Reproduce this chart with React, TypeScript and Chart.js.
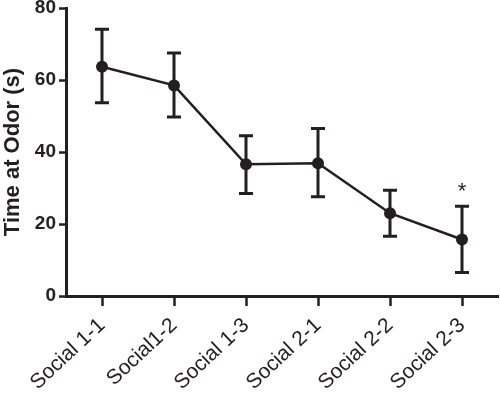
import React, { useEffect, useRef } from "react";
import { Chart, registerables } from "chart.js";

Chart.register(...registerables);

const categories = ["Social 1-1", "Social1-2", "Social 1-3", "Social 2-1", "Social 2-2", "Social 2-3"];
const means = [63.7, 58.5, 36.6, 36.9, 23.0, 15.7];
const upper = [74.1, 67.5, 44.5, 46.5, 29.4, 24.9];
const lower = [53.7, 49.7, 28.5, 27.6, 16.6, 6.5];
const marks = ["", "", "", "", "", "*"];
const yTicks = [0, 20, 40, 60, 80];

const INK = "#231f20";
const AREA_RIGHT = 498;

const errorBarPlugin = {
  id: "errorBars",
  afterLayout(chart: any) {
    const x = chart.scales.x;
    const area = chart.chartArea;
    area.right = AREA_RIGHT;
    area.width = AREA_RIGHT - area.left;
    x.right = AREA_RIGHT;
    x.width = AREA_RIGHT - x.left;
    x.configure();
  },
  beforeDatasetsDraw(chart: any) {
    const { ctx, scales } = chart;
    const x = scales.x;
    const y = scales.y;
    ctx.save();
    ctx.strokeStyle = INK;
    ctx.lineWidth = 3;
    ctx.lineCap = "butt";
    categories.forEach((_, i) => {
      const px = x.getPixelForValue(i);
      const top = y.getPixelForValue(upper[i]);
      const bot = y.getPixelForValue(lower[i]);
      ctx.beginPath();
      ctx.moveTo(px, top);
      ctx.lineTo(px, bot);
      ctx.moveTo(px - 7, top);
      ctx.lineTo(px + 7, top);
      ctx.moveTo(px - 7, bot);
      ctx.lineTo(px + 7, bot);
      ctx.stroke();
    });
    ctx.restore();
  },
  afterDatasetsDraw(chart: any) {
    const { ctx, scales } = chart;
    ctx.save();
    ctx.fillStyle = INK;
    ctx.font = "22px 'Liberation Sans', Arial, sans-serif";
    ctx.textAlign = "center";
    ctx.textBaseline = "middle";
    marks.forEach((m, i) => {
      if (!m) return;
      const px = scales.x.getPixelForValue(i);
      const py = scales.y.getPixelForValue(upper[i]) - 14;
      ctx.fillText(m, px, py);
    });
    ctx.restore();
  },
};

export default function App() {
  const ref = useRef<HTMLCanvasElement>(null);
  useEffect(() => {
    if (!ref.current) return;
    const chart = new Chart(ref.current, {
      type: "line",
      data: {
        labels: categories,
        datasets: [
          {
            data: means,
            borderColor: INK,
            backgroundColor: INK,
            borderWidth: 2.5,
            pointRadius: 6,
            pointHoverRadius: 6,
            pointBackgroundColor: INK,
            pointBorderWidth: 0,
            tension: 0,
          },
        ],
      },
      options: {
        responsive: false,
        animation: false,
        layout: { padding: { top: 8, right: 2, left: 0, bottom: 0 } },
        plugins: { legend: { display: false }, tooltip: { enabled: false } },
        scales: {
          x: {
            type: "category",
            offset: true,
            afterFit(scale: any) {
              scale.height = 100;
              scale.paddingLeft = 0;
              scale.paddingRight = 0;
            },
            grid: {
              offset: false,
              drawOnChartArea: false,
              drawTicks: true,
              tickLength: 10,
              tickWidth: 2.5,
              tickColor: INK,
              color: INK,
            },
            border: { display: true, color: INK, width: 3 },
            ticks: {
              color: INK,
              font: { family: "'Liberation Sans', Arial, sans-serif", size: 21 },
              minRotation: 43,
              maxRotation: 43,
              padding: 7,
              autoSkip: false,
            },
          },
          y: {
            min: 0,
            max: 80,
            afterFit(scale: any) {
              scale.width = 66;
              scale.paddingTop = 0;
              scale.paddingBottom = 0;
            },
            afterBuildTicks(scale: any) {
              scale.ticks = yTicks.map((v) => ({ value: v }));
            },
            grid: {
              drawOnChartArea: false,
              drawTicks: true,
              tickLength: 7,
              tickWidth: 2.5,
              tickColor: INK,
              color: INK,
            },
            border: { display: true, color: INK, width: 3 },
            ticks: {
              color: INK,
              font: { family: "'Liberation Sans', Arial, sans-serif", size: 19, weight: "bold" },
              padding: 3,
            },
            title: {
              display: true,
              text: "Time at Odor (s)",
              color: INK,
              font: { family: "'Liberation Sans', Arial, sans-serif", size: 22, weight: "bold" },
              padding: { top: 0, bottom: 0 },
            },
          },
        },
      },
      plugins: [errorBarPlugin],
    });
    return () => chart.destroy();
  }, []);
  return (
    <div style={{ position: "absolute", left: 0, top: 0, width: 500, height: 396, background: "#fff" }}>
      <canvas ref={ref} width={500} height={396} />
    </div>
  );
}
